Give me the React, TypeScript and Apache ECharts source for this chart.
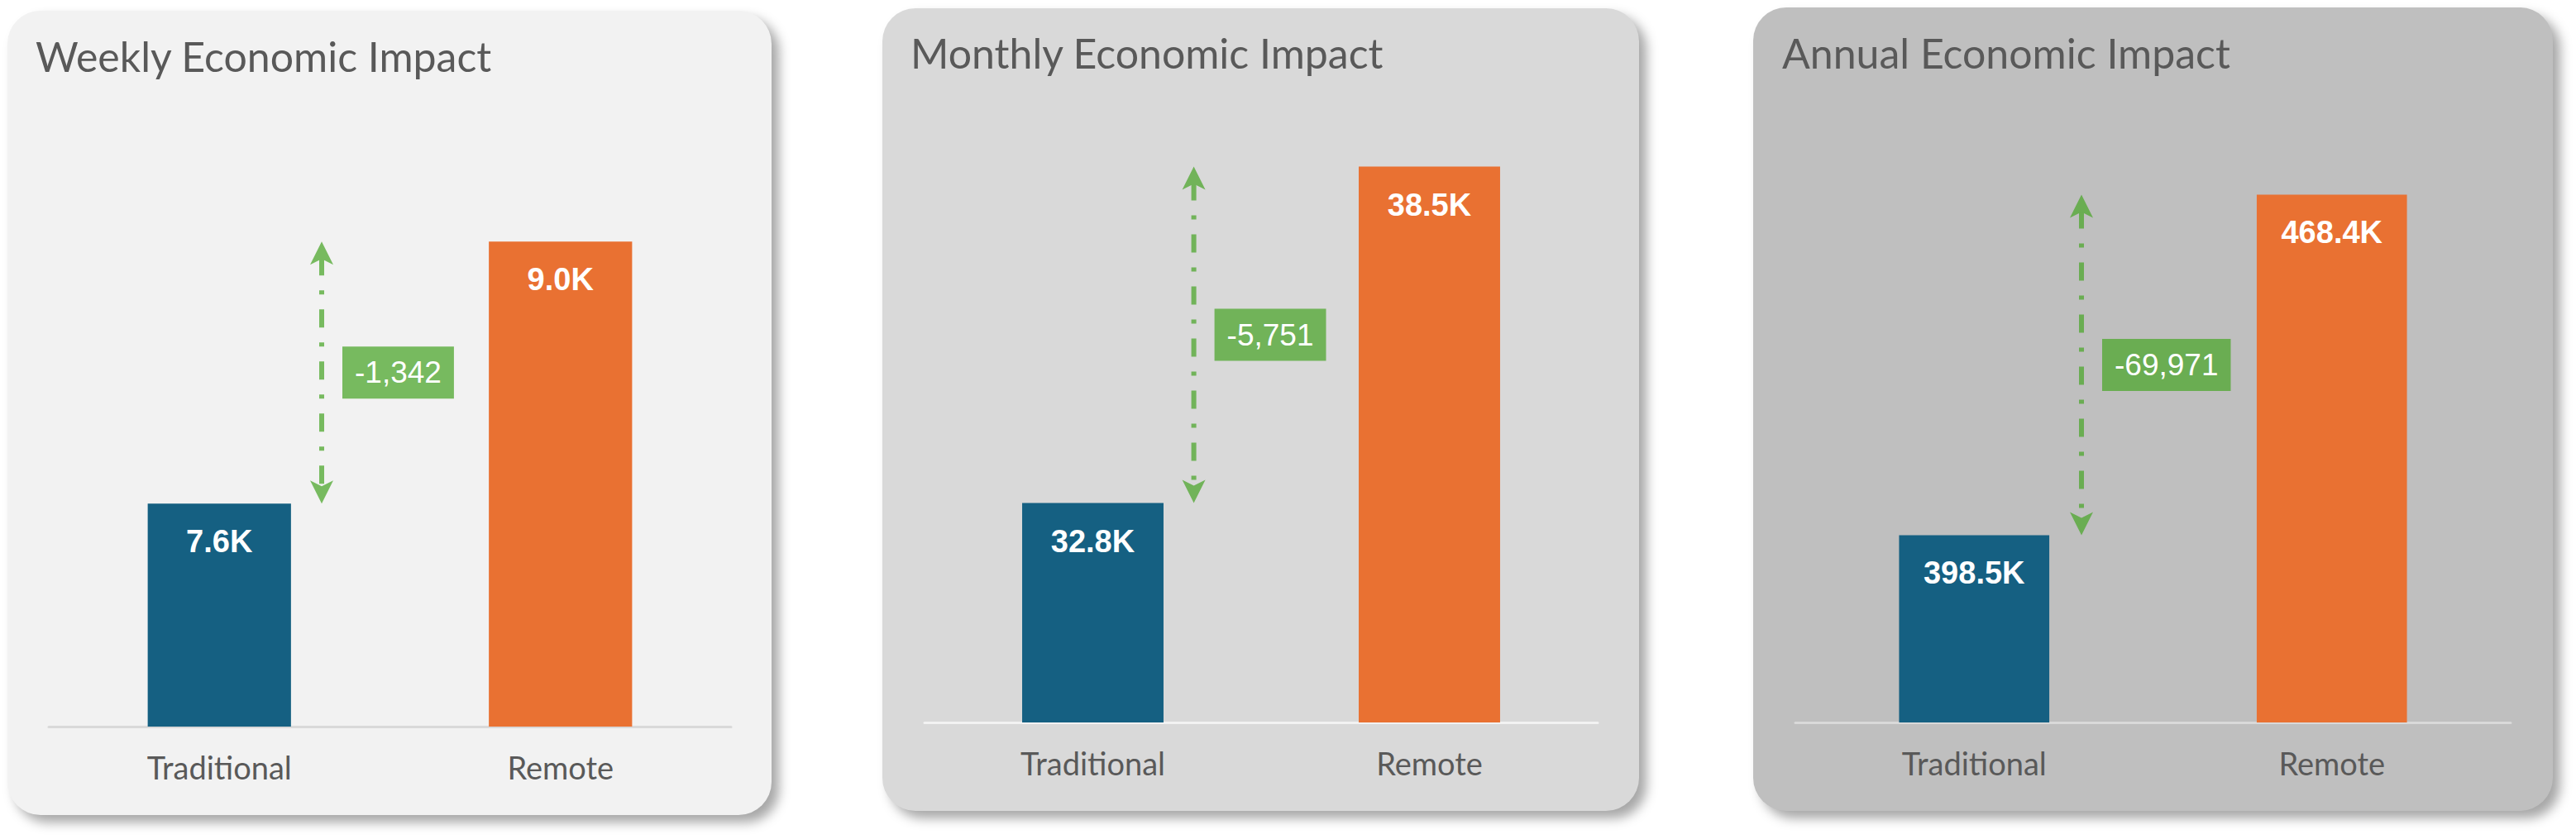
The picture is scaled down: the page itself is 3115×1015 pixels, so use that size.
import React, { useEffect, useRef } from "react";
import * as echarts from "echarts";

// ---- data ----
const categories = ["Traditional", "Remote"];
const panelTitles = ["Weekly Economic Impact", "Monthly Economic Impact", "Annual Economic Impact"];
const traditionalValues = [7642, 32751, 398470];
const remoteValues = [8984, 38502, 468441];
const axisMin = [6500, 29000, 360000];
const axisMax = [9500, 40000, 480000];

// ---- layout / style ----
const W = 3115;
const H = 1015;
const panels = [
  { x: 9, y: 13, w: 924, h: 973, bg: "#f2f2f2", axis: "#d9d9d9", green: "#77ba5f", titleX: 43, titleY: 43, grid: { left: 59, width: 825, top: 170.4, height: 708.6 } },
  { x: 1067, y: 10, w: 915, h: 971, bg: "#d9d9d9", axis: "#f2f2f2", green: "#71b359", titleX: 1101, titleY: 39, grid: { left: 1118, width: 814, top: 95.5, height: 778.5 } },
  { x: 2120, y: 9, w: 967, h: 972, bg: "#bfbfbf", axis: "#d9d9d9", green: "#6aad52", titleX: 2155, titleY: 39, grid: { left: 2171, width: 865, top: 167.4, height: 706.6 } },
];
const barColors = ["#156082", "#e97132"];
const textColor = "#595959";

function fmtK(v: number) {
  return (v / 1000).toFixed(1) + "K";
}

export default function App() {
  const ref = useRef<HTMLDivElement>(null);
  useEffect(() => {
    if (!ref.current) return;
    const chart = echarts.init(ref.current, undefined, { renderer: "svg" });
    const series: any[] = [];
    panels.forEach((p, i) => {
      series.push({
        type: "bar",
        xAxisIndex: i,
        yAxisIndex: i,
        barWidth: "42%",
        data: [
          { value: traditionalValues[i], itemStyle: { color: barColors[0] } },
          { value: remoteValues[i], itemStyle: { color: barColors[1] } },
        ],
        label: {
          show: true,
          position: "insideTop",
          distance: 27,
          formatter: (d: any) => fmtK(d.value),
          color: "#ffffff",
          fontFamily: "Liberation Sans",
          fontWeight: "bold",
          fontSize: 38,
        },
      });
      const green = p.green;
      series.push({
        type: "custom",
        xAxisIndex: i,
        yAxisIndex: i,
        clip: false,
        z: 5,
        encode: { x: 0, y: [1, 2] },
        data: [[0, traditionalValues[i], remoteValues[i]]],
        renderItem: (params: any, api: any) => {
          const lo = api.coord([0, api.value(1)]);
          const hi = api.coord([1, api.value(2)]);
          const band = api.size([1, 0])[0];
          const x = lo[0] + 0.3 * band;
          const yTop = hi[1];
          const yBot = lo[1];
          const diff = api.value(1) - api.value(2);
          const txt = (diff < 0 ? "-" : "") + Math.abs(Math.round(diff)).toLocaleString("en-US");
          return {
            type: "group",
            children: [
              {
                type: "line",
                shape: { x1: x, y1: yTop + 19, x2: x, y2: yBot - 19 },
                style: { stroke: green, lineWidth: 6, lineDash: [22, 18, 5, 18] },
              },
              {
                type: "polygon",
                shape: { points: [[x, yTop], [x - 14, yTop + 28], [x, yTop + 21], [x + 14, yTop + 28]] },
                style: { fill: green },
              },
              {
                type: "polygon",
                shape: { points: [[x, yBot], [x - 14, yBot - 28], [x, yBot - 21], [x + 14, yBot - 28]] },
                style: { fill: green },
              },
              {
                type: "text",
                x: x + 25,
                y: (yTop + yBot) / 2,
                style: {
                  text: txt,
                  fill: "#ffffff",
                  fontFamily: "Liberation Sans",
                  fontSize: 37,
                  align: "left",
                  verticalAlign: "middle",
                  backgroundColor: green,
                  padding: [13, 15, 13, 15],
                },
              },
            ],
          };
        },
      });
    });
    chart.setOption({
      animation: false,
      backgroundColor: "transparent",
      title: panels.map((p, i) => ({
        text: panelTitles[i],
        left: p.titleX,
        top: p.titleY,
        padding: 0,
        textStyle: { fontFamily: "Lato", fontSize: 50, fontWeight: "normal", color: textColor },
      })),
      grid: panels.map((p) => ({ ...p.grid, containLabel: false })),
      xAxis: panels.map((p, i) => ({
        type: "category",
        gridIndex: i,
        data: categories,
        axisLine: { show: true, lineStyle: { color: p.axis, width: 3 } },
        axisTick: { show: false },
        axisLabel: { fontFamily: "Lato", fontSize: 38, color: textColor, margin: 30 },
        splitLine: { show: false },
      })),
      yAxis: panels.map((p, i) => ({
        type: "value",
        gridIndex: i,
        min: axisMin[i],
        max: axisMax[i],
        show: false,
        splitLine: { show: false },
      })),
      series,
    });
    return () => chart.dispose();
  }, []);

  return (
    <div style={{ position: "absolute", left: 0, top: 0, width: W, height: H, background: "#ffffff", overflow: "hidden" }}>
      {panels.map((p, i) => (
        <div
          key={i}
          style={{
            position: "absolute",
            left: p.x,
            top: p.y,
            width: p.w,
            height: p.h,
            background: p.bg,
            borderRadius: 40,
            boxShadow: "9px 9px 14px rgba(0,0,0,0.35)",
          }}
        />
      ))}
      <div ref={ref} style={{ position: "absolute", left: 0, top: 0, width: W, height: H }} />
    </div>
  );
}
